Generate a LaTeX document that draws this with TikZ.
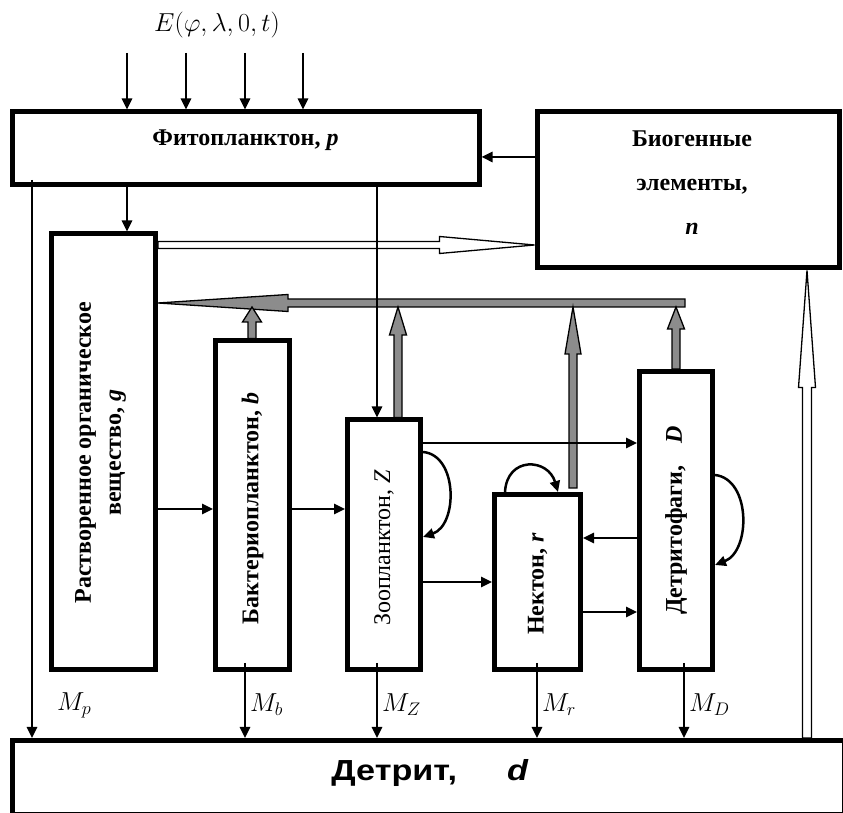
\RequirePackage{fix-cm}
\documentclass[tikz,border=0pt]{standalone}
\usepackage[no-math]{fontspec}
\setmainfont{Liberation Serif}
\newfontfamily\detrfont{Liberation Sans}
\usetikzlibrary{arrows.meta,calc}
\definecolor{grayc}{gray}{0.55}
\newcommand\fatarrow[6]{%
  \path ($(#2)!#5!(#1)$) coordinate (fah);
  \filldraw[fill=#6,draw=black,line width=1.3pt,line join=miter]
    ($(#1)!#3!90:(#2)$) -- ($(fah)!#3!-90:(#1)$) -- ($(fah)!#4!-90:(#1)$) -- (#2)
    -- ($(fah)!#4!90:(#1)$) -- ($(fah)!#3!90:(#1)$) -- ($(#1)!#3!-90:(#2)$) -- cycle;}
\tikzset{
  box/.style={draw,line width=5pt,inner sep=0pt,outer sep=2.5pt},
  arr/.style={line width=2.5pt,-{Triangle[length=11pt,width=10pt]}},
  bt/.style={font=\fontsize{24}{28}\selectfont\bfseries,inner sep=0pt},
  rt/.style={font=\fontsize{24}{28}\selectfont,inner sep=0pt},
  mlab/.style={font=\fontsize{26}{30}\selectfont,inner sep=0pt,anchor=west}
}
\begin{document}
\begin{tikzpicture}[x=1pt,y=1pt]
\useasboundingbox (0,0) rectangle (843,813);
% boxes
\node[box,minimum width=467pt,minimum height=73pt] (phyto) at (245.5,664.5) {};
\node[box,minimum width=302pt,minimum height=156pt] (bio) at (688,623) {};
\node[box,minimum width=104pt,minimum height=435.5pt] (dom) at (103.5,361.25) {};
\node[box,minimum width=74pt,minimum height=328.5pt] (bact) at (252.5,307.75) {};
\node[box,minimum width=73pt,minimum height=249.5pt] (zoo) at (384,268.25) {};
\node[box,minimum width=86pt,minimum height=175pt] (nek) at (537.5,231) {};
\node[box,minimum width=73pt,minimum height=298pt] (det) at (676,292.5) {};
\node[box,minimum width=832pt,minimum height=74pt] (detr) at (428.5,35.5) {};
% texts
\node[font=\fontsize{26}{30}\selectfont,inner sep=0pt] (Elab) at (217,788) {$E(\varphi,\lambda,0,t)$};
\node[bt] (phytoT) at ([yshift=8.5pt]phyto.center) {Фитопланктон, \textit{p}};
\node[bt,align=center,font=\fontsize{24}{44}\selectfont\bfseries] (bioT) at ([xshift=4pt,yshift=7pt]bio.center) {Биогенные\\элементы,\\\textit{n}};
\node[bt,rotate=90,align=center,font=\fontsize{24}{30}\selectfont\bfseries] (domT) at ([xshift=-3pt,yshift=-1pt]dom.center) {Растворенное органическое\\вещество, \textit{g}};
\node[bt,rotate=90] (bactT) at ([yshift=-3pt]bact.center) {Бактериопланктон, \textit{b}};
\node[rt,rotate=90] (zooT) at ([yshift=-3pt]zoo.center) {Зоопланктон, \textit{Z}};
\node[bt,rotate=90] (nekT) at ([yshift=-2pt]nek.center) {Нектон, \textit{r}};
\node[bt,rotate=90] (detT) at ([yshift=0pt]det.center) {Детритофаги,\hspace{22pt}\textit{D}};
\node[font=\detrfont\bfseries\fontsize{29}{34}\selectfont,inner sep=0pt] (detrT) at ([xshift=1.5pt,yshift=4.5pt]detr.center) {\scalebox{1.18}[1]{Детрит,}\hspace{50pt}\scalebox{1.18}[1]{\textit{d}}};
% hollow arrows
\coordinate (hy) at (0,568);
\coordinate (h1s) at (dom.east |- hy);
\coordinate (h1e) at (bio.west |- hy);
\fatarrow{h1s}{h1e}{3.5pt}{8.5pt}{95pt}{white}
\coordinate (hx) at (807,0);
\coordinate (h2s) at (hx |- detr.north);
\coordinate (h2e) at (hx |- bio.south);
\fatarrow{h2s}{h2e}{4.5pt}{8.5pt}{117pt}{white}
% gray arrows
\coordinate (barR) at (685,510);
\coordinate (barL) at (dom.east |- barR);
\fatarrow{barR}{barL}{4pt}{8.5pt}{130pt}{grayc}
\coordinate (barB) at (0,506);
\coordinate (g1x) at (252,0);
\coordinate (g1s) at (g1x |- bact.north);
\coordinate (g1e) at (g1x |- barB);
\fatarrow{g1s}{g1e}{4pt}{9.5pt}{15pt}{grayc}
\coordinate (g2x) at (398,0);
\coordinate (g2s) at (g2x |- zoo.north);
\coordinate (g2e) at (g2x |- barB);
\fatarrow{g2s}{g2e}{4pt}{8.5pt}{28pt}{grayc}
\coordinate (g3s) at (573,325);
\coordinate (g3e) at (g3s |- barB);
\fatarrow{g3s}{g3e}{4pt}{8pt}{47pt}{grayc}
\coordinate (g4x) at (676,0);
\coordinate (g4s) at (g4x |- det.north);
\coordinate (g4e) at (g4x |- barB);
\fatarrow{g4s}{g4e}{4pt}{8.5pt}{22pt}{grayc}
% thin arrows
\foreach \xx/\nn in {127/1,186/2,245/3,303/4}{
  \coordinate (e\nn) at (\xx,760);
  \draw[arr] (e\nn) -- (e\nn |- phyto.north);
}
\coordinate (pd) at (127,0);
\draw[arr] (pd |- phyto.south) -- (pd |- dom.north);
\coordinate (mp) at (32,633);
\draw[arr] (mp) -- (mp |- detr.north);
\coordinate (pz) at (377,0);
\draw[arr] (pz |- phyto.south) -- (pz |- zoo.north);
\coordinate (bp) at (0,656);
\draw[arr] (bio.west |- bp) -- (phyto.east |- bp);
\coordinate (r1) at (0,304);
\draw[arr] (dom.east |- r1) -- (bact.west |- r1);
\draw[arr] (bact.east |- r1) -- (zoo.west |- r1);
\coordinate (r2) at (0,370);
\draw[arr] (zoo.east |- r2) -- (det.west |- r2);
\coordinate (r3) at (0,231);
\draw[arr] (zoo.east |- r3) -- (nek.west |- r3);
\coordinate (r4) at (0,275);
\draw[arr] (det.west |- r4) -- (nek.east |- r4);
\coordinate (r5) at (0,201);
\draw[arr] (nek.east |- r5) -- (det.west |- r5);
% loops
\coordinate (zy1) at (0,361);
\coordinate (zy2) at (0,276);
\draw[arr] (zoo.east |- zy1) .. controls +(35,-3) and +(35,12) .. (zoo.east |- zy2);
\coordinate (nx1) at (505,0);
\coordinate (nx2) at (558,0);
\draw[arr] (nx1 |- nek.north) .. controls +(2,36) and +(-10,34) .. (nx2 |- nek.north);
\coordinate (dy1) at (0,338);
\coordinate (dy2) at (0,248);
\draw[arr] (det.east |- dy1) .. controls +(36,-4) and +(36,14) .. (det.east |- dy2);
% mortality arrows
\foreach \xx/\nn in {245/b,377/z,537/r,684/d}{
  \coordinate (m\nn) at (\xx,150);
  \draw[arr] (m\nn) -- (m\nn |- detr.north);
}
\node[mlab] (Mp) at (57,108) {$M_p$};
\node[mlab] (Mb) at (250,108) {$M_b$};
\node[mlab] (Mz) at (382,108) {$M_Z$};
\node[mlab] (Mr) at (542,108) {$M_r$};
\node[mlab] (Md) at (689,108) {$M_D$};
\end{tikzpicture}
\end{document}
